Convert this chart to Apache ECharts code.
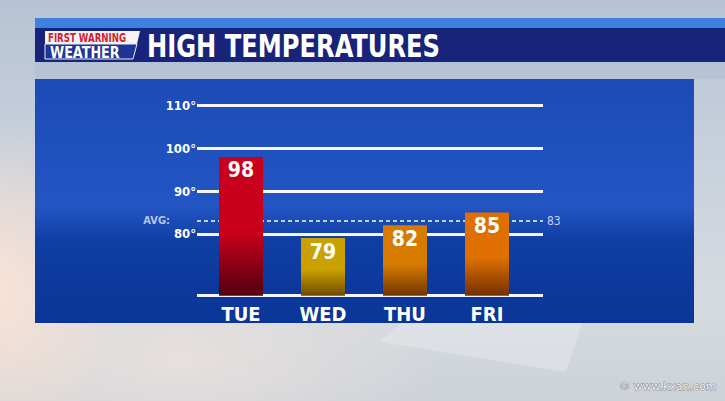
<!DOCTYPE html>
<html>
<head>
<meta charset="utf-8">
<script src="https://cdn.jsdelivr.net/npm/echarts@6/dist/echarts.min.js"></script>
<style>
  html, body { margin: 0; padding: 0; }
  body {
    width: 725px; height: 401px; overflow: hidden;
    background:
      radial-gradient(ellipse 120px 170px at 0px 290px, rgba(252,226,212,0.95), rgba(252,226,212,0) 100%),
      radial-gradient(ellipse 260px 120px at 180px 360px, rgba(236,226,222,0.8), rgba(236,226,222,0) 100%),
      linear-gradient(180deg, #b7c3d4 0%, #c6cfdb 35%, #d6dbe0 75%, #cdd2d8 100%);
  }
  #chart { width: 725px; height: 401px; }
</style>
</head>
<body>
<div id="chart"></div>
<script>
// data
const days = ["TUE", "WED", "THU", "FRI"];
const highs = [98, 79, 82, 85];
const tickValues = [110, 100, 90, 80];
const avgHigh = 83;
const axisMin = 65.5;
const axisMax = 110;

// bar colours, top then bottom shade
const barTop = ["#c8001b", "#c9a100", "#d77b00", "#de6f00"];
const barBottom = ["#520010", "#6e4a00", "#723600", "#723000"];

const condensed = "'DejaVu Sans Condensed', 'Liberation Sans Narrow', sans-serif";

let chart = echarts.init(document.getElementById("chart"), null, { renderer: "svg" });

// horizontal guide lines, drawn on their own grid so they run wider than the bars
let guideLines = tickValues.map(v => ({
  yAxis: v,
  label: { formatter: v + "°" }
}));
guideLines.push({ yAxis: axisMin, label: { show: false } });

let option = {
  animation: false,
  graphic: [
    // title bar
    { type: "rect", shape: { x: 35, y: 18, width: 690, height: 10 }, style: { fill: "#3f80dc" }, z: 1 },
    { type: "rect", shape: { x: 35, y: 28, width: 690, height: 34 }, style: { fill: "#17247a" }, z: 1 },
    { type: "rect", shape: { x: 35, y: 62, width: 690, height: 17 }, style: { fill: "rgba(170,186,210,0.45)" }, z: 1 },
    // logo
    { type: "polygon", shape: { points: [[45, 31], [140, 31], [137, 44], [45, 44]] }, style: { fill: "#f4f4f8" }, z: 2 },
    { type: "polygon", shape: { points: [[45, 44], [137, 44], [133, 59], [45, 59]] }, style: { fill: "#1c3596", stroke: "#e8ecf6", lineWidth: 1 }, z: 2 },
    { type: "text", x: 48, y: 38, scaleX: 0.8, style: { text: "FIRST WARNING", fill: "#d5202c", font: "bold 12px " + condensed, textVerticalAlign: "middle" }, z: 3 },
    { type: "text", x: 50, y: 52, scaleX: 0.95, style: { text: "WEATHER", fill: "#ffffff", font: "bold 15px " + condensed, textVerticalAlign: "middle" }, z: 3 },
    { type: "text", x: 147, y: 46, scaleX: 0.84, style: { text: "HIGH TEMPERATURES", fill: "#ffffff", font: "bold 32px " + condensed, textVerticalAlign: "middle" }, z: 3 },
    // blue panel
    {
      type: "rect", shape: { x: 35, y: 79, width: 659, height: 244 }, z: 0,
      style: {
        fill: new echarts.graphic.LinearGradient(0, 0, 0, 1, [
          { offset: 0, color: "#1c4bb6" },
          { offset: 0.52, color: "#2355c3" },
          { offset: 0.66, color: "#103ea4" },
          { offset: 1, color: "#0a3598" }
        ])
      }
    },
    // light pane at bottom right
    { type: "polygon", shape: { points: [[400, 323], [582, 323], [566, 372], [380, 342]] }, style: { fill: "rgba(240,242,244,0.35)" }, z: 0 },
    {
      type: "text", right: 8, top: 380,
      style: { text: "© www.kxan.com", fill: "#f2f3f4", stroke: "rgba(80,80,80,0.6)", lineWidth: 1, font: "11px 'DejaVu Sans', sans-serif" },
      z: 3
    }
  ],
  grid: [
    { left: 197, right: 182, top: 105.7, bottom: 105.3 },
    { left: 200, right: 197, top: 105.7, bottom: 105.3 }
  ],
  xAxis: [
    { type: "value", gridIndex: 0, min: 0, max: 1, show: false },
    {
      type: "category",
      gridIndex: 1,
      data: days,
      axisLine: { show: false },
      axisTick: { show: false },
      axisLabel: {
        color: "#ffffff",
        fontFamily: condensed,
        fontWeight: "bold",
        fontSize: 20,
        margin: 8
      }
    }
  ],
  yAxis: [
    { type: "value", gridIndex: 0, min: axisMin, max: axisMax, show: false },
    { type: "value", gridIndex: 1, min: axisMin, max: axisMax, show: false }
  ],
  series: [
    {
      type: "line",
      xAxisIndex: 0,
      yAxisIndex: 0,
      data: [],
      z: 1,
      markLine: {
        silent: true,
        symbol: "none",
        lineStyle: { color: "#f4f7ff", width: 3, type: "solid" },
        label: {
          position: "start",
          color: "#ffffff",
          fontFamily: condensed,
          fontWeight: "bold",
          fontSize: 13,
          distance: 1,
          padding: [0, 0, 8, 0]
        },
        data: guideLines
      }
    },
    {
      type: "line",
      xAxisIndex: 0,
      yAxisIndex: 0,
      data: [],
      z: 1,
      markLine: {
        silent: true,
        symbol: "none",
        lineStyle: { color: "#cfdbf5", width: 1.5, type: [4, 3] },
        data: [
          {
            yAxis: avgHigh,
            label: { position: "end", formatter: String(avgHigh), color: "#c3d3f2", fontFamily: condensed, fontSize: 12, distance: 4 }
          },
          {
            yAxis: avgHigh,
            label: { position: "start", formatter: "AVG:", color: "#b3c6ec", fontFamily: condensed, fontWeight: "bold", fontSize: 11, distance: 27 }
          }
        ]
      }
    },
    {
      type: "bar",
      xAxisIndex: 1,
      yAxisIndex: 1,
      barWidth: 44,
      z: 5,
      data: highs.map((v, i) => ({
        value: v,
        itemStyle: {
          color: new echarts.graphic.LinearGradient(0, 0, 0, 1, [
            { offset: 0, color: barTop[i] },
            { offset: 0.55, color: barTop[i] },
            { offset: 1, color: barBottom[i] }
          ])
        }
      })),
      label: {
        show: true,
        position: "insideTop",
        distance: 3,
        color: "#ffffff",
        fontFamily: condensed,
        fontWeight: "bold",
        fontSize: 21
      }
    }
  ]
};

chart.setOption(option);
</script>
</body>
</html>
